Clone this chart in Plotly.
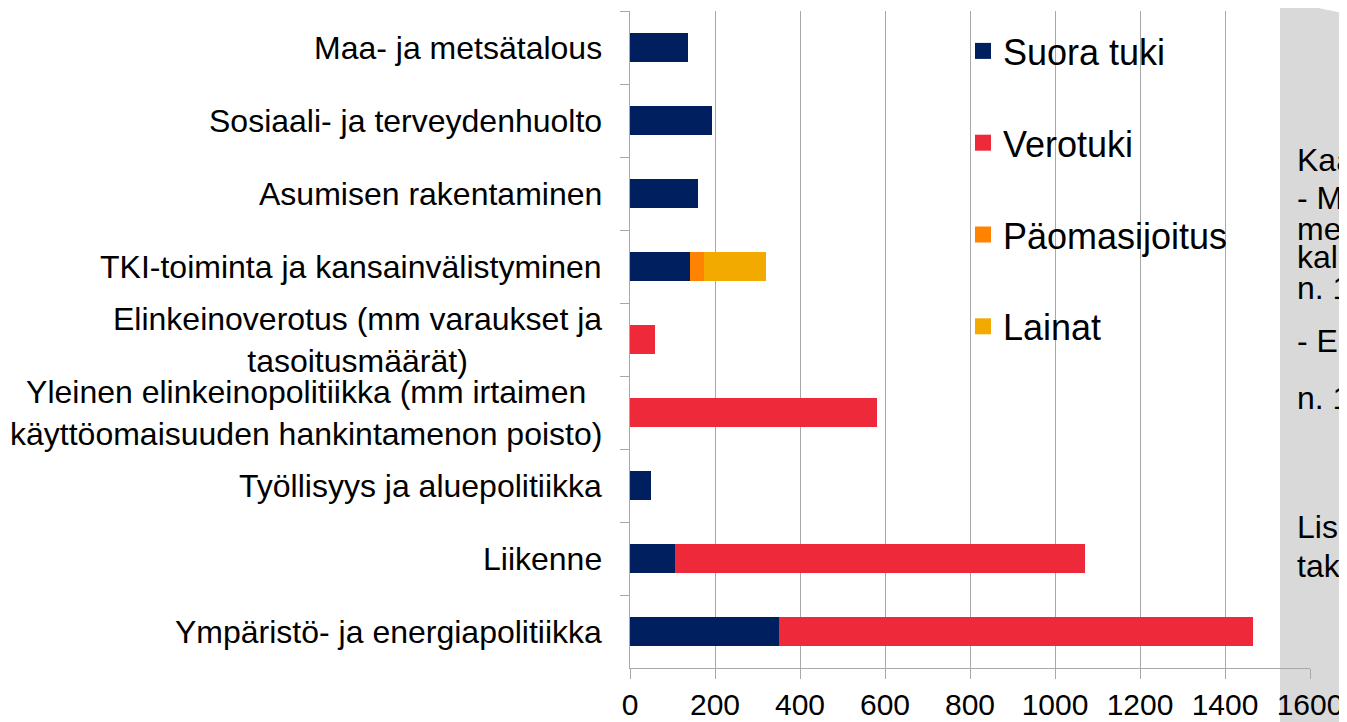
import plotly.graph_objects as go

categories = [
    "Maa- ja metsätalous",
    "Sosiaali- ja terveydenhuolto",
    "Asumisen rakentaminen",
    "TKI-toiminta ja kansainvälistyminen",
    "Elinkeinoverotus (mm varaukset ja<br>tasoitusmäärät)",
    "Yleinen elinkeinopolitiikka (mm irtaimen<br>käyttöomaisuuden hankintamenon poisto)",
    "Työllisyys ja aluepolitiikka",
    "Liikenne",
    "Ympäristö- ja energiapolitiikka",
]

suora_tuki = [137, 192, 159, 142, None, None, 50, 105, 350]
verotuki = [None, None, None, None, 58, 580, None, 965, 1117]
paaomasijoitus = [None, None, None, 31, None, None, None, None, None]
lainat = [None, None, None, 148, None, None, None, None, None]

series_names = ["Suora tuki", "Verotuki", "Päomasijoitus", "Lainat"]
series_values = [suora_tuki, verotuki, paaomasijoitus, lainat]
series_colors = ["#001F5F", "#EE2939", "#FF8300", "#F2AA00"]

x_ticks = [0, 200, 400, 600, 800, 1000, 1200, 1400, 1600]

side_lines = ["Kaa", "- M", "me", "kala", "n. 1", "- E", "n. 1", "Lisä", "tak"]
side_line_px = [160, 198, 229, 257, 288, 341, 398, 527, 566]

FONT = "Liberation Sans, Arial, sans-serif"
GRID = "#a8a8a8"

# the page body adds an 8px offset; the figure is sized so it fills the window
OFF = 8
W, H = 1347 - OFF, 722 - OFF
L, T, PW, PH = 622, 3, 680, 657
R, B = W - L - PW, H - T - PH

fig = go.Figure()

for name, vals, col in zip(series_names, series_values, series_colors):
    fig.add_trace(go.Bar(
        y=categories, x=vals, orientation="h", name=name,
        marker=dict(color=col, line=dict(width=0)),
        legendgroup=name, showlegend=False,
    ))

for name, col in zip(series_names, series_colors):
    fig.add_trace(go.Scatter(
        x=[None], y=[None], mode="markers", name=name,
        marker=dict(symbol="square", size=16, color=col),
        legendgroup=name, showlegend=True,
    ))

def px_to_paper_x(px):
    return (px - OFF - L) / PW

def px_to_paper_y(py):
    return (H - B - (py - OFF)) / PH

# grey side panel (behind the chart)
x0, x1 = px_to_paper_x(1280), px_to_paper_x(1352)
y_top_left, y_top_right = px_to_paper_y(0), px_to_paper_y(15)
y_bot = px_to_paper_y(730)
fig.add_shape(
    type="path", xref="paper", yref="paper", layer="below",
    path=f"M {x0},{y_top_left} L {x1},{y_top_right} L {x1},{y_bot} L {x0},{y_bot} Z",
    fillcolor="#d9d9d9", line=dict(width=0),
)

annotations = []
for c in categories:
    annotations.append(dict(
        x=0, xref="paper", y=c, yref="y", xanchor="right", yanchor="middle",
        xshift=-26, text=c, showarrow=False, align="center",
        font=dict(family=FONT, size=32, color="#000000"),
    ))
for t, py in zip(side_lines, side_line_px):
    annotations.append(dict(
        x=px_to_paper_x(1295), xref="paper", y=px_to_paper_y(py), yref="paper",
        xanchor="left", yanchor="middle", text=t, showarrow=False,
        font=dict(family=FONT, size=32, color="#000000"),
    ))

fig.update_layout(
    width=W, height=H,
    margin=dict(l=L, r=R, t=T, b=B, pad=0, autoexpand=False),
    paper_bgcolor="#ffffff", plot_bgcolor="rgba(0,0,0,0)",
    barmode="stack", bargap=0.59,
    font=dict(family=FONT, color="#000000"),
    showlegend=True,
    legend=dict(
        x=px_to_paper_x(963), y=px_to_paper_y(21), xanchor="left", yanchor="top",
        xref="paper", yref="paper",
        font=dict(family=FONT, size=36, color="#000000"),
        bgcolor="rgba(0,0,0,0)", borderwidth=0,
        tracegroupgap=42, traceorder="grouped",
    ),
    annotations=annotations,
    xaxis=dict(
        range=[0, 1600], tickvals=x_ticks, ticktext=[str(v) for v in x_ticks],
        showgrid=True, gridcolor=GRID, gridwidth=1,
        showline=True, linecolor=GRID, linewidth=1,
        ticks="outside", ticklen=10, tickcolor=GRID, tickwidth=1,
        zeroline=False, automargin=False,
        tickfont=dict(family=FONT, size=30, color="#000000"),
    ),
    yaxis=dict(
        type="category", autorange="reversed",
        showticklabels=False, showgrid=False, zeroline=False,
        showline=True, linecolor=GRID, linewidth=1,
        ticks="outside", ticklen=9, tickcolor=GRID, tickwidth=1,
        tickson="boundaries", automargin=False,
    ),
)

fig.write_html("out.html")
